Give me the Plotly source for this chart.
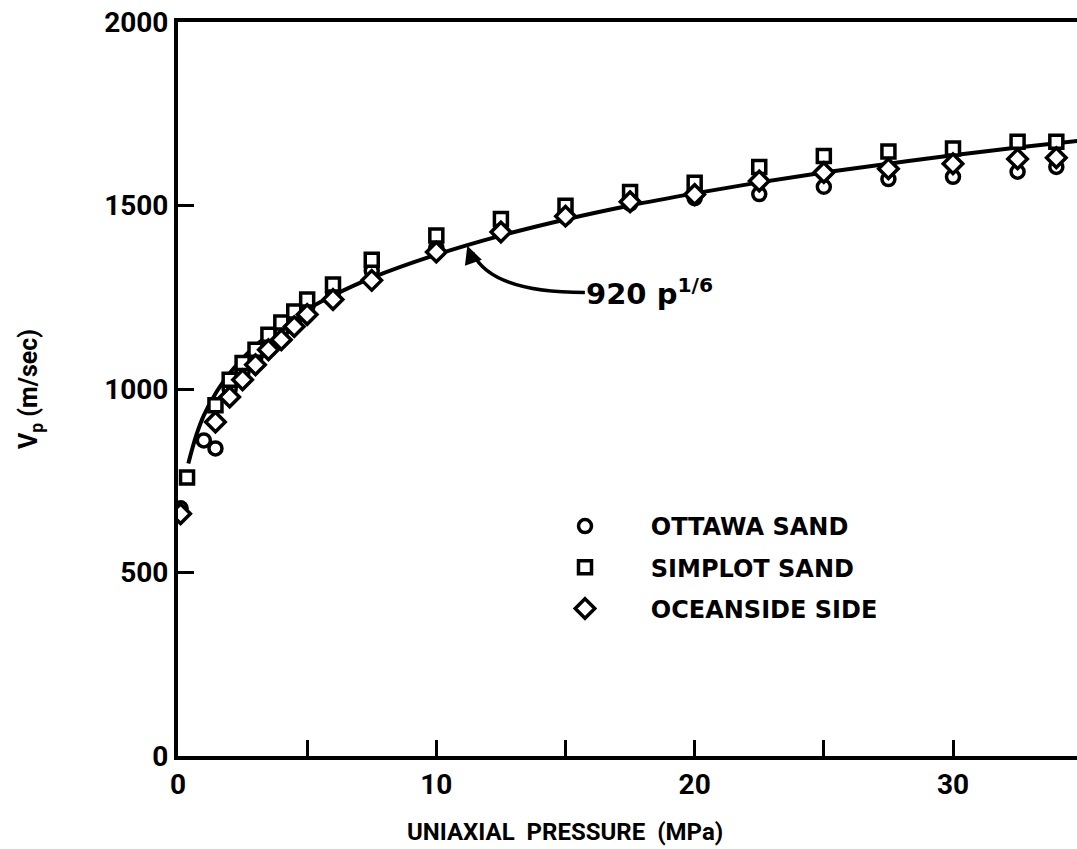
import plotly.graph_objects as go

# ---- data ----
pressure_ottawa = [0.1, 1.0, 1.45, 2.0, 2.5, 3.0, 3.5, 4.0, 4.5, 5.0, 6.0, 7.5, 10.0,
                   12.5, 15.0, 17.5, 20.0, 22.5, 25.0, 27.5, 30.0, 32.5, 34.0]
vp_ottawa = [675, 860, 838, 1000, 1048, 1088, 1128, 1158, 1190, 1222, 1262, 1322, 1385,
             1432, 1468, 1505, 1520, 1531, 1551, 1572, 1578, 1592, 1605]

pressure_simplot = [0.35, 1.45, 2.0, 2.5, 3.0, 3.5, 4.0, 4.5, 5.0, 6.0, 7.5, 10.0,
                    12.5, 15.0, 17.5, 20.0, 22.5, 25.0, 27.5, 30.0, 32.5, 34.0]
vp_simplot = [759, 956, 1025, 1071, 1107, 1148, 1181, 1211, 1244, 1285, 1352, 1418,
              1463, 1499, 1537, 1562, 1605, 1635, 1647, 1655, 1674, 1674]

pressure_oceanside = [0.1, 1.45, 2.0, 2.5, 3.0, 3.5, 4.0, 4.5, 5.0, 6.0, 7.5, 10.0,
                      12.5, 15.0, 17.5, 20.0, 22.5, 25.0, 27.5, 30.0, 32.5, 34.0]
vp_oceanside = [660, 910, 978, 1025, 1066, 1107, 1134, 1170, 1203, 1244, 1296, 1373,
                1428, 1471, 1510, 1530, 1567, 1590, 1600, 1614, 1627, 1630]

# fitted curve "920 p^1/6"
pressure_fit = [0.4, 0.7, 1.0, 1.5, 2.0, 2.5, 3.0, 4.0, 5.0, 6.0, 7.5, 10.0, 12.5,
                15.0, 17.5, 20.0, 22.5, 25.0, 27.5, 30.0, 32.5, 35.0]
vp_fit = [797, 872, 928, 993, 1043, 1083, 1118, 1172, 1217, 1255, 1303, 1366, 1418,
          1462, 1500, 1533, 1563, 1590, 1614, 1637, 1658, 1677]

x_tick_vals = [0, 5, 10, 15, 20, 25, 30]
x_tick_text = ["0", "", "10", "", "20", "", "30"]
y_ticks = [0, 500, 1000, 1500, 2000]

series_names = ["OTTAWA SAND", "SIMPLOT SAND", "OCEANSIDE SIDE"]

FONT = "Roboto"
WIDE = "DejaVu Sans"
INK = "black"

fig = go.Figure()

fig.add_trace(go.Scatter(
    x=pressure_fit, y=vp_fit, mode="lines", line=dict(color=INK, width=4, shape="spline"),
    showlegend=False, hoverinfo="skip"))

marker_common = dict(color="white", line=dict(color=INK, width=3.5))
sym = ["circle", "square", "diamond"]
sizes = [13, 13, 15]
for i, (px, vy) in enumerate([(pressure_ottawa, vp_ottawa),
                              (pressure_simplot, vp_simplot),
                              (pressure_oceanside, vp_oceanside)]):
    fig.add_trace(go.Scatter(
        x=px, y=vy, mode="markers",
        name="&nbsp;&nbsp;&nbsp;&nbsp;&nbsp;&nbsp;<b>" + series_names[i] + "</b>",
        legendgroup=f"g{i}",
        marker=dict(symbol=sym[i], size=sizes[i], **marker_common)))

# curved leader from the label to the curve
fig.add_shape(type="path", xref="x", yref="y",
              path="M 15.75,1263 Q 12.1,1263 11.4,1372",
              line=dict(color=INK, width=3.5))
fig.add_annotation(x=11.2, y=1390, xref="x", yref="y", ax=5, ay=14,
                   showarrow=True, arrowhead=2, arrowsize=1.2, arrowwidth=3,
                   arrowcolor=INK, standoff=0, text="")
fig.add_annotation(x=15.7, y=1263, xref="x", yref="y", xanchor="left", yanchor="middle",
                   text="<b>920 p<sup>1/6</sup></b>", showarrow=False,
                   font=dict(family=WIDE, size=29, color=INK))

# x-axis title
fig.add_annotation(x=(565 - 178) / 899, y=-(832 - 756) / 734, xref="paper", yref="paper",
                   xanchor="center", yanchor="middle",
                   text="<b>UNIAXIAL  PRESSURE  (MPa)</b>", showarrow=False,
                   font=dict(family=FONT, size=24, color=INK))

fig.update_layout(
    width=1077, height=849,
    margin=dict(l=178, r=0, t=22, b=93),
    paper_bgcolor="white", plot_bgcolor="white",
    font=dict(family=FONT, color=INK),
    xaxis=dict(range=[0, 34.8], showgrid=False, zeroline=False,
               showline=True, linecolor=INK, linewidth=4, mirror=True,
               ticks="inside", tickwidth=2.5, ticklen=16, tickcolor=INK,
               tickvals=x_tick_vals,
               ticktext=[f"<b>{t}</b>" if t else "" for t in x_tick_text],
               tickfont=dict(family=FONT, size=28, color=INK)),
    yaxis=dict(range=[0, 2000], showgrid=False, zeroline=False,
               showline=True, linecolor=INK, linewidth=4,
               ticks="inside", tickwidth=2.5, ticklen=16, tickcolor=INK,
               tickvals=y_ticks, ticktext=[f"<b>{v}</b>" for v in y_ticks],
               tickfont=dict(family=FONT, size=28, color=INK),
               title=dict(text="<b>V<sub>p</sub> (m/sec)</b>", standoff=60,
                          font=dict(family=FONT, size=25, color=INK))),
    legend=dict(x=(565 - 178) / 899, y=(756 - 504) / 734, xanchor="left", yanchor="top",
                bgcolor="rgba(0,0,0,0)", tracegroupgap=7,
                font=dict(family=WIDE, size=24, color=INK)),
)

fig.write_html("out.html", config={"displayModeBar": False},
               post_script="document.body.style.margin='0px';")
